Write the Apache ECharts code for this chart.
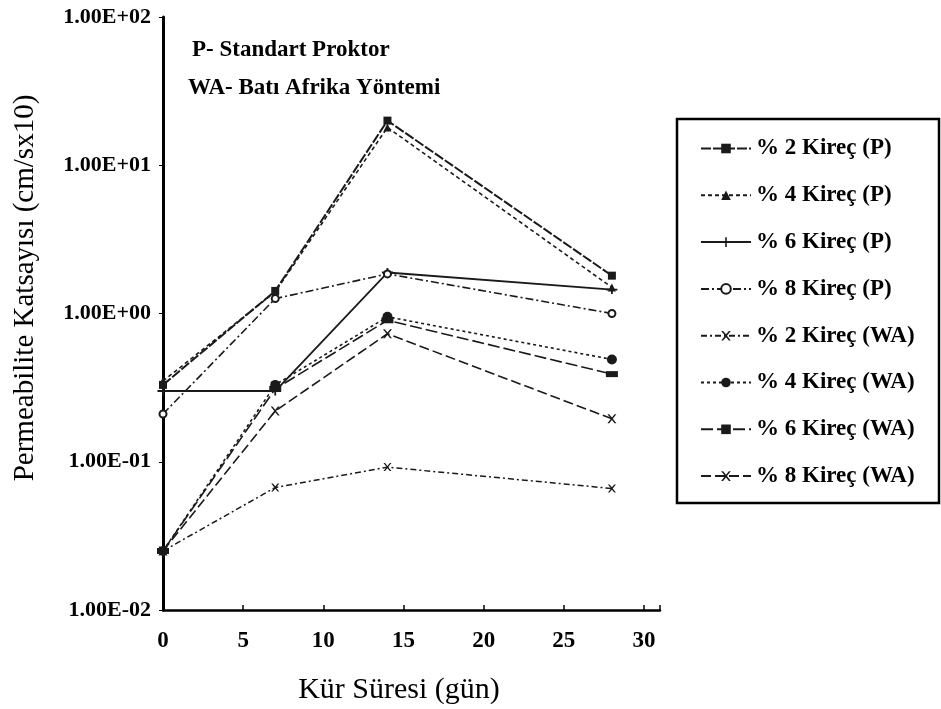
<!DOCTYPE html>
<html>
<head>
<meta charset="utf-8">
<script src="https://cdn.jsdelivr.net/npm/echarts@6/dist/echarts.min.js"></script>
<style>
html,body{margin:0;padding:0;background:#fff;}
#chart{width:941px;height:709px;}
</style>
</head>
<body>
<div id="chart"></div>
<script>
// ---- data ----
var days = [0, 7, 14, 28];
var seriesNames = ['% 2 Kireç (P)', '% 4 Kireç (P)', '% 6 Kireç (P)', '% 8 Kireç (P)',
                   '% 2 Kireç (WA)', '% 4 Kireç (WA)', '% 6 Kireç (WA)', '% 8 Kireç (WA)'];
var p2  = [0.33, 1.42, 20.0, 1.8];
var p4  = [0.35, 1.40, 18.0, 1.5];
var p6  = [0.30, 0.30, 1.89, 1.45];
var p8  = [0.21, 1.26, 1.85, 1.0];
var wa2 = [0.025, 0.067, 0.092, 0.066];
var wa4 = [0.025, 0.33, 0.95, 0.49];
var wa6 = [0.025, 0.31, 0.90, 0.39];
var wa8 = [0.025, 0.22, 0.73, 0.195];
var xTickLabels = ['0', '5', '10', '15', '20', '25', '30'];
var yTickLabels = ['1.00E-02', '1.00E-01', '1.00E+00', '1.00E+01', '1.00E+02'];
var yTitle = 'Permeabilite Katsayısı (cm/sx10)';
var xTitle = 'Kür Süresi (gün)';
var note1 = 'P- Standart Proktor';
var note2 = 'WA- Batı Afrika Yöntemi';

var allValues = [p2, p4, p6, p8, wa2, wa4, wa6, wa8];
var serif = "'Liberation Serif', 'DejaVu Serif', serif";
var ink = '#1a1a1a';

var xSym = 'path://M0,0 L2,0 L5,3.5 L8,0 L10,0 L6,5 L10,10 L8,10 L5,6.5 L2,10 L0,10 L4,5 Z';
var dashSym = 'path://M0,4 L12,4 L12,7 L0,7 Z';
var plusSym = 'path://M0,4 L5,4 L5,0 L7,0 L7,4 L12,4 L12,6 L7,6 L7,10 L5,10 L5,6 L0,6 Z';

var styles = [
  {symbol: 'rect', size: 8, type: [10, 2], width: 2},
  {symbol: 'triangle', size: 8, type: [4, 3], width: 1.6},
  {symbol: plusSym, size: [11, 9], type: 'solid', width: 1.8},
  {symbol: 'emptyCircle', size: 7, type: [8, 3, 2, 3], width: 1.6},
  {symbol: xSym, size: 8, type: [6, 3, 2, 3], width: 1.5},
  {symbol: 'circle', size: 10, type: [3, 3], width: 1.6},
  {symbol: dashSym, size: [12, 6], type: [12, 4], width: 1.6},
  {symbol: xSym, size: 9, type: [10, 4], width: 1.6}
];

var series = allValues.map(function (vals, i) {
  var st = styles[i];
  return {
    name: seriesNames[i],
    type: 'line',
    data: days.map(function (d, k) { return [d, vals[k]]; }),
    symbol: st.symbol,
    symbolSize: st.size,
    showAllSymbol: true,
    lineStyle: {color: ink, width: st.width, type: st.type},
    itemStyle: {color: ink, borderColor: ink, borderWidth: st.symbol === 'emptyCircle' ? 1.5 : 0},
    emphasis: {disabled: true},
    animation: false
  };
});

var chart = echarts.init(document.getElementById('chart'), null, {renderer: 'canvas'});
chart.setOption({
  backgroundColor: '#fff',
  animation: false,
  grid: {left: 163, right: 281, top: 17, bottom: 99, containLabel: false, outerBoundsMode: 'none'},
  xAxis: {
    type: 'value', min: 0, max: 31, interval: 5,
    axisLine: {lineStyle: {color: '#000', width: 2.5}},
    axisTick: {inside: true, length: 5, lineStyle: {color: '#000', width: 1.5}},
    splitLine: {show: false},
    axisLabel: {
      margin: 20, color: '#000', fontFamily: serif, fontWeight: 'bold', fontSize: 23,
      formatter: function (v) { return v % 5 === 0 ? xTickLabels[v / 5] : ''; }
    }
  },
  yAxis: {
    type: 'log', logBase: 10, min: 0.01, max: 100,
    axisLine: {show: true, lineStyle: {color: '#000', width: 3}},
    axisTick: {show: true, length: 4, lineStyle: {color: '#000', width: 1}},
    splitLine: {show: false},
    axisLabel: {
      margin: 12, color: '#000', fontFamily: serif, fontWeight: 'bold', fontSize: 22,
      formatter: function (v) { return yTickLabels[Math.round(Math.log10(v)) + 2] || ''; }
    }
  },
  legend: {
    orient: 'vertical', left: 700, top: 137,
    itemWidth: 50, itemHeight: 12, itemGap: 23.8,
    padding: 0,
    data: seriesNames,
    textStyle: {fontFamily: serif, fontWeight: 'bold', fontSize: 23, color: '#000'}
  },
  tooltip: {show: false},
  graphic: [
    {type: 'rect', shape: {x: 677, y: 119, width: 262, height: 384},
     style: {fill: 'none', stroke: '#000', lineWidth: 2.5}, silent: true},
    {type: 'text', x: 192, y: 50,
     style: {text: note1, font: 'bold 23px ' + serif, fill: '#000', textVerticalAlign: 'middle'}},
    {type: 'text', x: 188, y: 88,
     style: {text: note2, font: 'bold 23px ' + serif, fill: '#000', textVerticalAlign: 'middle'}},
    {type: 'text', x: 399, y: 690,
     style: {text: xTitle, font: '30px ' + serif, fill: '#000', textAlign: 'center', textVerticalAlign: 'middle'}},
    {type: 'text', x: 25, y: 288, rotation: Math.PI / 2,
     style: {text: yTitle, font: '29px ' + serif, fill: '#000', textAlign: 'center', textVerticalAlign: 'middle'}}
  ],
  series: series
});
</script>
</body>
</html>
